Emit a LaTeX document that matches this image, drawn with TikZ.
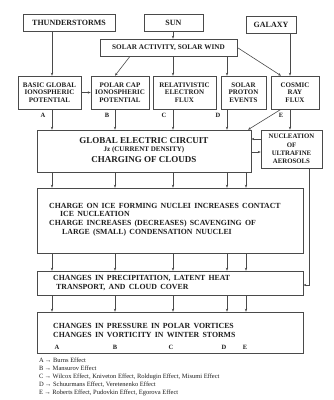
\documentclass[tikz,border=0pt]{standalone}
\usepackage{fontspec}
\setmainfont{Liberation Serif}
\usetikzlibrary{arrows.meta}
\definecolor{ln}{HTML}{4A4A4A}
\definecolor{tx}{HTML}{1E1E1E}
\newcommand\mywidesp{\spaceskip=0.42em plus 0.1em\relax}
\tikzset{
  box/.style={draw=ln, line width=0.6pt, rectangle, inner sep=0pt, align=center, text=tx, font=\bfseries\fontsize{7}{7.6}\selectfont},
  topbox/.style={box, font=\bfseries\fontsize{8}{9}\selectfont},
  arr/.style={draw=ln, line width=0.6pt, -{Stealth[length=3pt,width=2.4pt]}},
  lbl/.style={text=tx, font=\bfseries\fontsize{6.5}{7}\selectfont, inner sep=0pt},
  btext/.style={text=tx, anchor=base west, inner sep=0pt, font=\bfseries\fontsize{7.8}{9}\selectfont\mywidesp},
  legend/.style={text=tx, anchor=base west, inner sep=0pt, font=\fontsize{6.5}{7}\selectfont}
}
\begin{document}
\begin{tikzpicture}[x=1pt,y=-1pt]
\useasboundingbox[fill=white] (0,0) rectangle (334,400);
% top row
\node[topbox, minimum width=92pt, minimum height=17pt] (thunder) at (69,22.5) {THUNDERSTORMS};
\node[topbox, minimum width=59pt, minimum height=17pt] (sun) at (173.5,22.5) {SUN};
\node[topbox, minimum width=50pt, minimum height=17pt] (galaxy) at (271,24.5) {GALAXY};
\node[box, font=\bfseries\fontsize{7.2}{8}\selectfont, minimum width=137pt, minimum height=17pt] (solar) at (168.5,47.5) {SOLAR ACTIVITY, SOLAR WIND};
% second row
\node[box, minimum width=63pt, minimum height=33pt] (basic) at (49.5,92.5) {BASIC GLOBAL\\IONOSPHERIC\\POTENTIAL};
\node[box, minimum width=58pt, minimum height=33pt] (polar) at (120,92.5) {POLAR CAP\\IONOSPHERIC\\POTENTIAL};
\node[box, minimum width=63pt, minimum height=33pt] (relat) at (184.5,92.5) {RELATIVISTIC\\ELECTRON\\FLUX};
\node[box, minimum width=45pt, minimum height=33pt] (proton) at (243.5,92.5) {SOLAR\\PROTON\\EVENTS};
\node[box, minimum width=48pt, minimum height=33pt] (cosmic) at (295,92.5) {COSMIC\\RAY\\FLUX};
% labels A-E
\node[lbl] (la) at (43,115) {A};
\node[lbl] (lb) at (107,115) {B};
\node[lbl] (lc) at (164,115) {C};
\node[lbl] (ld) at (218,115) {D};
\node[lbl] (le) at (281,115) {E};
% global circuit
\node[box, minimum width=214pt, minimum height=42pt] (global) at (144,151) {};
\node[text=tx, inner sep=0pt, font=\bfseries\fontsize{9}{10}\selectfont] (g1) at (144,141) {GLOBAL ELECTRIC CIRCUIT};
\node[text=tx, inner sep=0pt, font=\bfseries\fontsize{7}{8}\selectfont] (g2) at (144,150) {Jz (CURRENT DENSITY)};
\node[text=tx, inner sep=0pt, font=\bfseries\fontsize{9}{10}\selectfont] (g3) at (144,159.5) {CHARGING OF CLOUDS};
\node[box, font=\bfseries\fontsize{6.8}{8.2}\selectfont, minimum width=61pt, minimum height=38pt] (nucl) at (291.5,149) {NUCLEATION\\OF\\ULTRAFINE\\AEROSOLS};
% charge box
\node[box, minimum width=266pt, minimum height=65pt] (charge) at (170,220.5) {};
\node[btext] (c1) at (49,208) {CHARGE ON ICE FORMING NUCLEI INCREASES CONTACT};
\node[btext] (c2) at (60,216.5) {ICE NUCLEATION};
\node[btext] (c3) at (49,225.5) {CHARGE INCREASES (DECREASES) SCAVENGING OF};
\node[btext] (c4) at (62,234.5) {LARGE (SMALL) CONDENSATION NUUCLEI};
% precipitation box
\node[box, minimum width=266pt, minimum height=24pt] (precip) at (170,283) {};
\node[btext] (p1) at (53,280) {CHANGES IN PRECIPITATION, LATENT HEAT};
\node[btext] (p2) at (56,289) {TRANSPORT, AND CLOUD COVER};
% pressure box
\node[box, minimum width=266pt, minimum height=41pt] (pressure) at (170,332.5) {};
\node[btext] (q1) at (53,328) {CHANGES IN PRESSURE IN POLAR VORTICES};
\node[btext] (q2) at (53,337) {CHANGES IN VORTICITY IN WINTER STORMS};
\node[lbl] (qa) at (57,347) {A};
\node[lbl] (qb) at (115,347) {B};
\node[lbl] (qc) at (171,347) {C};
\node[lbl] (qd) at (224,347) {D};
\node[lbl] (qe) at (245,347) {E};
% legend
\node[legend] (l1) at (39,362) {A\,→ Burns Effect};
\node[legend] (l2) at (39,370) {B\,→ Mansurov Effect};
\node[legend] (l3) at (39,378) {C\,→ Wilcox Effect, Kniveton Effect, Roldugin Effect, Misumi Effect};
\node[legend] (l4) at (39,386) {D\,→ Schuurmans Effect, Veretenenko Effect};
\node[legend] (l5) at (39,394) {E\,→ Roberts Effect, Pudovkin Effect, Egorova Effect};
% connectors top
\draw[arr] (52,0 |- thunder.south) -- (52,0 |- basic.north);
\draw[arr] (173,0 |- sun.south) -- (173,0 |- solar.north);
\draw[arr] (130,0 |- solar.south) -- (115,0 |- polar.north);
\draw[arr] (173,0 |- solar.south) -- (173,0 |- relat.north);
\draw[arr] (227,0 |- solar.south) -- (227,0 |- proton.north);
\draw[arr] (solar.east) -- (281,0 |- cosmic.north);
\draw[arr] (290,0 |- galaxy.south) -- (290,0 |- cosmic.north);
\draw[arr] (basic.east) -- (polar.west);
% row 2 to global
\draw[arr] (52,0 |- basic.south) -- (52,0 |- global.north);
\draw[arr] (115,0 |- polar.south) -- (115,0 |- global.north);
\draw[arr] (173,0 |- relat.south) -- (173,0 |- global.north);
\draw[arr] (227,0 |- proton.south) -- (227,0 |- global.north);
\draw[arr] (281,0 |- cosmic.south) -- (248,0 |- global.north);
\draw[arr] (290,0 |- cosmic.south) -- (290,0 |- nucl.north);
% global <-> nucleation
\draw[arr] (0,139 -| nucl.west) -- (0,139 -| global.east);
\draw[arr] (0,152 -| global.east) -- (0,152 -| nucl.west);
% global to charge
\foreach \xx in {52,115,173,227,246} {
  \draw[arr] (\xx,0 |- global.south) -- (\xx,0 |- charge.north);
  \draw[arr] (\xx,0 |- charge.south) -- (\xx,0 |- precip.north);
  \draw[arr] (\xx,0 |- precip.south) -- (\xx,0 |- pressure.north);
}
% nucleation to precipitation
\draw[arr] (309,0 |- nucl.south) |- (0,285 -| precip.east);
\end{tikzpicture}
\end{document}
